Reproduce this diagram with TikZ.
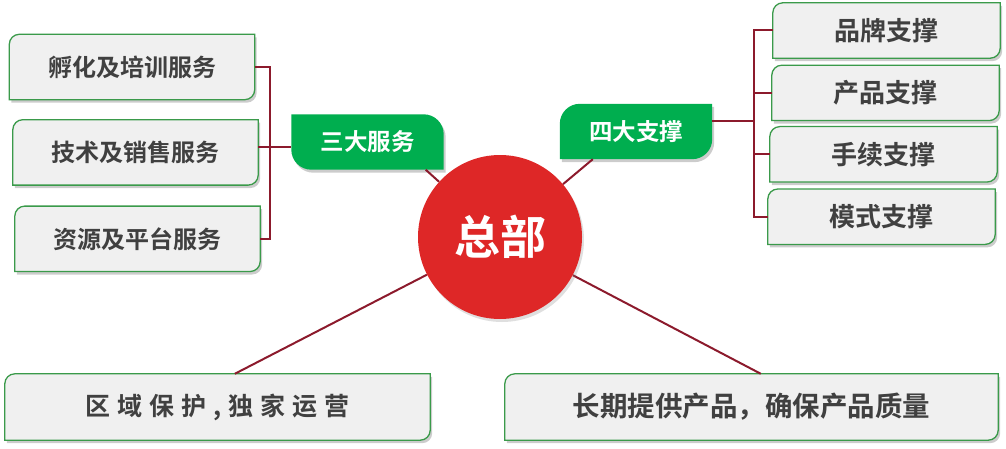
\documentclass[tikz,border=0pt]{standalone}
\usepackage{fontspec}
\setmainfont{Noto Sans CJK SC}[BoldFont={Noto Sans CJK SC Bold}]
\usepackage{tikz}
\usetikzlibrary{positioning, calc, backgrounds, shadows}
\definecolor{cardgrey}{HTML}{F0F0F0}
\definecolor{cardgreen}{HTML}{3A9A4A}
\definecolor{taggreen}{HTML}{00AE4F}
\definecolor{hubred}{HTML}{DE2727}
\definecolor{linkred}{HTML}{8C1A2C}
\definecolor{textgrey}{HTML}{404040}

\tikzset{
  tlbr/.style 2 args={insert path={(#1.north west) ++(0,-#2) arc[start angle=180, end angle=90, radius=#2] -- (#1.north east) -- ($(#1.south east)+(0,#2)$) arc[start angle=0, end angle=-90, radius=#2] -- (#1.south west) -- cycle}},
  trbl/.style 2 args={insert path={(#1.north west) -- ($(#1.north east)+(-#2,0)$) arc[start angle=90, end angle=0, radius=#2] -- (#1.south east) -- ($(#1.south west)+(#2,0)$) arc[start angle=270, end angle=180, radius=#2] -- cycle}},
}

\begin{document}
\begin{tikzpicture}[x=1pt, y=1pt,
    card/.style 2 args={minimum width=#1, minimum height=#2, inner sep=0pt, text=textgrey},
    leftcard/.style={card={245}{65}, font=\bfseries\fontsize{24}{28}\selectfont},
    rightcard/.style={card={227}{55}, font=\bfseries\fontsize{26}{30}\selectfont},
    basecard/.style={card={#1}{66}, font=\bfseries\fontsize{27.5}{30}\selectfont},
    tag/.style={minimum width=152, minimum height=55, inner sep=0pt, text=white, font=\bfseries\fontsize{23.5}{28}\selectfont},
    hub/.style={circle, fill=hubred, minimum size=164, inner sep=0pt, text=white, font=\bfseries\fontsize{46}{50}\selectfont, drop shadow={opacity=.25, shadow xshift=2pt, shadow yshift=-3pt}},
    link/.style={draw=linkred, line width=2pt},
]
    \useasboundingbox (0,0) rectangle (1006,448);

    % centre
    \node[hub] (hq) at (500,211) {总部};

    % left branch
    \node[tag] (sd) at (367.5,306) {三大服务};
    \node[leftcard] (fh) at (132,381) {孵化及培训服务};
    \node[leftcard, below=20pt of fh, xshift=3.5pt] (js) {技术及销售服务};
    \node[leftcard, below=21pt of js, xshift=2pt] (zy) {资源及平台服务};

    % right branch
    \node[tag] (sz) at (636,316.5) {四大支撑};
    \node[rightcard] (pp) at (886.5,417.5) {品牌支撑};
    \node[rightcard, below=7pt of pp, xshift=-1pt] (cp) {产品支撑};
    \node[rightcard, below=6pt of cp, xshift=-2pt] (sx) {手续支撑};
    \node[rightcard, below=7pt of sx, xshift=-2pt] (ms) {模式支撑};

    % bottom
    \node[basecard=425, font=\bfseries\fontsize{25}{30}\selectfont\addfontfeatures{LetterSpace=28}] (qy) at (217.5,41) {区域保护,独家运营};
    \node[basecard=493] (cq) at (751.5,41) {长期提供产品，确保产品质量};

    \coordinate (lk) at (270,301);
    \coordinate (rk) at (754,327);

    \begin{scope}[on background layer]
        \foreach \n in {fh,js,zy,pp,cp,sx,ms,qy,cq} {
            \fill[black, opacity=.2, transform canvas={shift={(2pt,-3pt)}}, tlbr={\n}{10}];
            \filldraw[fill=cardgrey, draw=cardgreen, line width=1.3pt, tlbr={\n}{10}];
        }
        \fill[black, opacity=.2, transform canvas={shift={(2pt,-3pt)}}, trbl={sd}{20}];
        \fill[taggreen, trbl={sd}{20}];
        \fill[black, opacity=.2, transform canvas={shift={(2pt,-3pt)}}, tlbr={sz}{20}];
        \fill[taggreen, tlbr={sz}{20}];

        \draw[link] (hq) -- ($(sd.south east)+(-18,0)$);
        \draw[link] (hq) -- ($(sz.south west)+(33,0)$);
        \draw[link] (hq) -- ($(qy.north west)+(230,0)$);
        \draw[link] (hq) -- ($(cq.north west)+(256,0)$);

        \draw[link] (fh.east) -| (lk) |- (zy.east);
        \draw[link] (js.east |- lk) -- (sd.west |- lk);

        \draw[link] (pp.west) -| (rk) |- (ms.west);
        \draw[link] (cp.west) -- (cp.west -| rk);
        \draw[link] (sx.west) -- (sx.west -| rk);
        \draw[link] (sz.east |- rk) -- (rk);
    \end{scope}
\end{tikzpicture}
\end{document}
